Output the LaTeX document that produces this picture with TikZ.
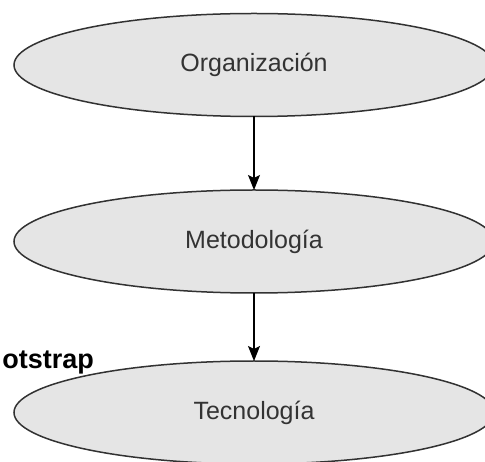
\documentclass[tikz,border=0pt]{standalone}
\usepackage{fontspec}
\setmainfont{Liberation Sans}
\usetikzlibrary{shapes.geometric, arrows.meta, positioning}
\definecolor{layergray}{RGB}{229, 229, 229}
\definecolor{edgegray}{RGB}{50, 50, 50}
\definecolor{textgray}{RGB}{51, 51, 51}

\begin{document}
\begin{tikzpicture}[
  x=1pt, y=-1pt,
  layer/.style={ellipse, draw=edgegray, fill=layergray, line width=1.5pt, minimum width=480pt, minimum height=103pt, inner sep=0pt, outer sep=0pt, text=textgray, font=\fontsize{25}{29}\selectfont},
  flow/.style={-{Stealth[length=15pt, width=12pt, inset=3pt]}, line width=1.3pt, black}
]
  \useasboundingbox (0,0) rectangle (485,462);
  \clip (0,0) rectangle (485,462);

  % Layers
  \node[layer] (org) at (254, 65) {Organización};
  \node[layer] (met) at (254, 241.5) {Metodología};
  \node[layer] (tec) at (254, 412.5) {Tecnología};

  % Arrows
  \draw[flow] (org) -- (met);
  \draw[flow] (met) -- (tec);

  % Side label
  \node[anchor=base east, inner sep=0pt, font=\fontsize{27}{31}\selectfont\bfseries] (boot) at (94, 369) {otstrap};
\end{tikzpicture}
\end{document}
